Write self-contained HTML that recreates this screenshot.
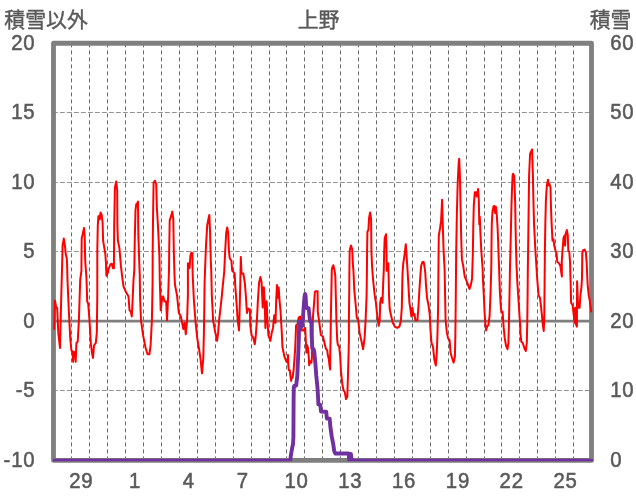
<!DOCTYPE html>
<html lang="ja"><head><meta charset="utf-8"><title>上野</title>
<style>html,body{margin:0;padding:0;background:#fff}svg{display:block}text{font-family:"Liberation Sans","Noto Sans CJK JP",sans-serif;font-size:20.9px;fill:#595959;stroke:#595959;stroke-width:0.4px;stroke-linejoin:round}.d{font-size:21.9px;letter-spacing:0.85px;stroke-width:0.55px}</style></head><body>
<svg width="636" height="501" viewBox="0 0 636 501">
<rect width="636" height="501" fill="#fff"/>
<g stroke="#595959" fill="none">
<line x1="71.5" y1="43.4" x2="71.5" y2="460.2" stroke-width="0.9" stroke-dasharray="4 3"/>
<line x1="89.5" y1="43.4" x2="89.5" y2="460.2" stroke-width="0.9" stroke-dasharray="4 3"/>
<line x1="107.5" y1="43.4" x2="107.5" y2="460.2" stroke-width="0.9" stroke-dasharray="4 3"/>
<line x1="125.5" y1="43.4" x2="125.5" y2="460.2" stroke-width="0.9" stroke-dasharray="4 3"/>
<line x1="143.5" y1="43.4" x2="143.5" y2="460.2" stroke-width="0.9" stroke-dasharray="4 3"/>
<line x1="161.5" y1="43.4" x2="161.5" y2="460.2" stroke-width="0.9" stroke-dasharray="4 3"/>
<line x1="179.5" y1="43.4" x2="179.5" y2="460.2" stroke-width="0.9" stroke-dasharray="4 3"/>
<line x1="197.5" y1="43.4" x2="197.5" y2="460.2" stroke-width="0.9" stroke-dasharray="4 3"/>
<line x1="215.5" y1="43.4" x2="215.5" y2="460.2" stroke-width="0.9" stroke-dasharray="4 3"/>
<line x1="233.5" y1="43.4" x2="233.5" y2="460.2" stroke-width="0.9" stroke-dasharray="4 3"/>
<line x1="251.5" y1="43.4" x2="251.5" y2="460.2" stroke-width="0.9" stroke-dasharray="4 3"/>
<line x1="269.5" y1="43.4" x2="269.5" y2="460.2" stroke-width="0.9" stroke-dasharray="4 3"/>
<line x1="286.5" y1="43.4" x2="286.5" y2="460.2" stroke-width="0.9" stroke-dasharray="4 3"/>
<line x1="304.5" y1="43.4" x2="304.5" y2="460.2" stroke-width="0.9" stroke-dasharray="4 3"/>
<line x1="322.5" y1="43.4" x2="322.5" y2="460.2" stroke-width="0.9" stroke-dasharray="4 3"/>
<line x1="340.5" y1="43.4" x2="340.5" y2="460.2" stroke-width="0.9" stroke-dasharray="4 3"/>
<line x1="358.5" y1="43.4" x2="358.5" y2="460.2" stroke-width="0.9" stroke-dasharray="4 3"/>
<line x1="376.5" y1="43.4" x2="376.5" y2="460.2" stroke-width="0.9" stroke-dasharray="4 3"/>
<line x1="394.5" y1="43.4" x2="394.5" y2="460.2" stroke-width="0.9" stroke-dasharray="4 3"/>
<line x1="412.5" y1="43.4" x2="412.5" y2="460.2" stroke-width="0.9" stroke-dasharray="4 3"/>
<line x1="430.5" y1="43.4" x2="430.5" y2="460.2" stroke-width="0.9" stroke-dasharray="4 3"/>
<line x1="448.5" y1="43.4" x2="448.5" y2="460.2" stroke-width="0.9" stroke-dasharray="4 3"/>
<line x1="466.5" y1="43.4" x2="466.5" y2="460.2" stroke-width="0.9" stroke-dasharray="4 3"/>
<line x1="484.5" y1="43.4" x2="484.5" y2="460.2" stroke-width="0.9" stroke-dasharray="4 3"/>
<line x1="501.5" y1="43.4" x2="501.5" y2="460.2" stroke-width="0.9" stroke-dasharray="4 3"/>
<line x1="519.5" y1="43.4" x2="519.5" y2="460.2" stroke-width="0.9" stroke-dasharray="4 3"/>
<line x1="537.5" y1="43.4" x2="537.5" y2="460.2" stroke-width="0.9" stroke-dasharray="4 3"/>
<line x1="555.5" y1="43.4" x2="555.5" y2="460.2" stroke-width="0.9" stroke-dasharray="4 3"/>
<line x1="573.5" y1="43.4" x2="573.5" y2="460.2" stroke-width="0.9" stroke-dasharray="4 3"/>
<line x1="52.9" y1="112.5" x2="591.5" y2="112.5" stroke-width="0.65" stroke-dasharray="4.9 2.1"/>
<line x1="52.9" y1="182.5" x2="591.5" y2="182.5" stroke-width="0.65" stroke-dasharray="4.9 2.1"/>
<line x1="52.9" y1="251.5" x2="591.5" y2="251.5" stroke-width="0.65" stroke-dasharray="4.9 2.1"/>
<line x1="52.9" y1="390.5" x2="591.5" y2="390.5" stroke-width="0.65" stroke-dasharray="4.9 2.1"/>
</g>
<line x1="53.5" y1="321.2" x2="591.5" y2="321.2" stroke="#7f7f7f" stroke-width="2.7"/>
<rect x="53.5" y="43.25" width="538.0" height="417.15" fill="none" stroke="#7f7f7f" stroke-width="4.8" stroke-linejoin="round"/>
<polyline points="54.3,329.1 54.9,300.5 56.3,307.7 57.2,308.0 58.3,332.9 60.0,348.0 61.3,295.0 62.0,270.0 62.6,245.6 63.8,238.6 65.1,247.0 65.7,254.1 66.8,258.5 67.1,265.0 67.5,281.0 68.9,312.0 69.7,328.0 70.4,340.0 71.4,350.5 72.6,351.8 73.1,361.8 73.9,351.8 75.2,353.0 75.7,361.8 76.4,343.0 77.7,341.7 78.9,320.3 80.2,280.0 81.4,271.0 81.7,238.0 82.7,234.3 84.0,228.0 84.7,236.8 85.2,260.7 86.5,279.0 87.2,301.4 88.2,304.0 89.5,320.3 90.8,343.0 92.0,353.0 93.0,358.0 94.0,345.5 95.8,343.0 96.8,332.9 97.3,295.2 97.3,250.3 97.8,225.2 98.4,216.4 99.3,215.7 99.8,219.5 100.6,212.6 101.6,214.5 102.6,222.6 103.1,240.3 104.3,247.8 105.3,253.5 106.0,263.5 106.4,275.8 107.9,272.5 108.4,269.5 110.4,264.5 111.9,263.7 112.9,268.2 113.9,268.2 114.2,225.5 114.9,187.7 116.2,181.4 117.2,190.3 117.4,225.5 117.9,240.6 119.4,248.1 120.9,265.7 122.0,275.3 123.5,286.4 126.2,292.6 128.5,296.4 129.5,310.3 130.8,311.5 131.8,316.5 132.5,302.7 133.5,280.0 134.3,270.0 134.8,238.0 135.5,210.4 136.3,204.0 137.0,204.0 138.0,201.6 138.3,233.0 139.3,263.2 139.8,275.8 140.0,295.2 141.0,320.3 143.1,335.4 145.6,348.0 147.6,354.3 149.4,354.3 150.6,345.5 151.9,320.3 152.6,282.6 152.7,250.6 153.1,212.9 153.6,182.7 154.9,180.7 156.2,184.0 156.9,207.9 158.2,230.5 159.4,255.7 159.8,280.0 160.7,310.3 161.9,300.2 163.2,296.4 164.5,301.4 166.2,301.4 167.0,320.3 168.2,295.2 169.0,270.0 169.2,250.6 169.7,220.4 171.3,215.4 172.3,211.6 173.3,219.2 173.8,250.6 174.5,275.8 175.0,285.0 177.0,295.2 178.8,312.8 180.8,316.5 182.1,322.8 183.3,329.1 184.6,322.8 185.8,334.2 187.1,320.3 187.9,295.2 187.9,270.0 187.9,263.2 188.9,264.5 189.6,268.2 190.4,255.7 191.4,252.6 192.4,253.1 192.6,270.8 192.8,277.5 193.9,300.2 195.4,320.3 197.2,337.9 198.9,348.0 200.4,358.0 202.0,373.3 203.3,358.0 203.9,332.9 204.3,307.7 204.6,282.6 205.3,263.2 206.0,245.6 207.2,225.5 208.6,217.9 209.3,214.9 210.1,233.0 210.8,260.7 211.3,272.0 211.8,295.2 213.1,320.3 215.1,331.6 217.1,340.9 218.1,332.9 219.1,320.3 221.4,300.2 223.1,282.6 224.2,272.0 225.2,250.6 226.2,233.0 227.2,227.5 228.2,233.0 228.9,250.6 229.7,258.2 231.4,260.7 232.2,270.8 233.5,272.0 234.7,273.8 235.2,285.0 236.5,302.7 237.7,320.3 239.0,330.4 239.7,307.7 240.3,282.6 240.8,256.9 241.5,273.3 243.3,273.5 244.8,282.6 245.8,295.0 246.6,308.0 247.0,313.0 248.3,308.6 249.9,309.3 250.3,325.3 251.6,335.4 253.3,337.9 254.8,344.2 255.8,335.4 256.9,320.3 257.9,300.2 259.1,282.6 260.4,277.0 261.6,282.6 262.7,307.5 262.9,287.6 263.9,287.6 264.7,302.7 265.4,327.9 265.9,302.7 266.7,301.4 267.4,320.3 268.4,335.4 270.4,340.9 271.7,332.9 273.0,327.9 274.2,315.3 275.5,322.8 276.2,300.2 277.0,285.0 278.0,297.7 278.7,287.6 279.5,300.2 280.5,310.3 281.8,332.9 282.5,347.5 284.4,356.4 286.3,361.4 287.8,362.6 288.0,355.1 288.3,365.2 288.8,370.2 289.8,370.2 290.7,377.7 291.1,380.9 291.6,377.7 292.6,377.7 293.6,370.2 294.5,358.9 295.3,346.3 296.1,325.3 297.6,324.1 298.6,317.8 300.1,316.5 301.9,330.4 303.6,330.4 305.2,327.9 305.8,340.0 306.4,352.6 307.0,345.0 307.9,347.5 308.7,356.4 309.2,365.2 310.2,361.4 311.4,362.6 311.9,358.0 312.2,345.5 312.7,322.0 313.1,315.0 314.3,300.6 314.9,292.0 315.7,291.2 317.6,291.2 317.7,301.0 317.8,312.0 319.1,321.0 320.9,335.0 323.0,336.7 324.5,343.0 325.9,348.8 327.2,350.1 327.8,355.1 328.8,358.9 329.3,363.9 330.1,369.6 330.3,352.6 330.6,340.0 330.8,320.3 331.3,295.2 331.8,270.0 332.1,268.2 333.3,265.2 334.6,270.8 335.3,275.8 335.8,295.2 336.4,320.3 337.2,340.0 337.9,345.0 339.1,346.3 340.1,355.1 341.0,371.4 342.3,384.0 343.5,390.3 344.8,392.2 346.0,399.1 347.3,396.6 347.9,377.7 348.6,352.6 348.9,340.0 348.9,320.3 349.2,295.2 349.4,270.0 349.7,250.6 350.9,245.4 352.2,249.4 353.0,265.7 353.5,272.0 354.3,290.1 355.5,302.7 356.8,317.8 358.3,320.3 359.6,332.9 361.3,340.4 363.1,349.2 364.6,337.9 365.6,320.3 366.6,295.2 366.9,272.0 367.1,250.6 367.4,231.8 368.4,230.0 369.1,217.9 370.1,212.4 371.1,219.2 371.4,250.6 372.1,267.0 373.1,280.0 374.7,295.2 375.9,302.7 377.2,315.3 378.7,325.8 379.7,320.3 380.2,302.7 381.2,297.7 382.5,302.7 383.2,282.6 383.8,270.0 384.2,250.6 384.7,238.0 386.0,234.3 386.5,250.6 386.7,270.8 387.2,263.2 388.2,263.2 388.6,275.0 389.0,295.2 389.7,309.0 391.0,315.3 392.8,322.8 394.8,326.6 397.3,327.9 399.3,326.6 400.8,321.6 401.8,307.7 402.3,282.6 402.6,272.0 403.3,263.2 404.8,253.1 405.8,244.3 406.6,255.7 407.4,268.2 408.4,285.1 409.4,302.7 410.4,309.0 411.4,316.5 412.4,307.7 413.4,315.3 414.4,314.0 415.4,320.3 417.4,320.3 418.4,307.7 419.4,290.1 420.4,275.4 421.2,265.7 422.5,261.9 423.7,261.9 424.7,268.2 425.3,273.0 426.0,285.1 427.0,297.7 428.5,305.2 429.7,314.0 430.5,330.4 431.5,343.0 433.0,346.7 434.3,359.3 435.8,365.6 436.8,353.0 437.5,332.9 438.1,307.7 438.4,272.0 438.6,250.6 438.8,235.5 440.1,228.0 441.1,220.4 442.1,199.8 442.8,225.5 443.6,250.6 444.6,269.0 445.1,295.2 445.6,320.3 446.9,332.9 448.1,338.4 449.6,340.4 450.6,353.0 452.1,358.0 453.6,362.6 454.9,356.8 455.4,332.9 455.8,295.2 456.0,272.0 456.2,250.6 456.9,212.9 457.7,182.7 458.7,162.6 459.2,158.8 459.9,175.2 460.7,212.9 461.2,238.0 461.9,259.4 463.2,265.7 464.0,271.5 464.7,276.3 466.2,280.1 467.7,283.8 469.5,288.9 470.8,285.1 472.0,279.0 472.8,255.7 473.3,225.5 473.8,205.3 474.8,192.3 476.0,192.3 476.8,196.5 478.1,189.0 478.8,200.3 479.3,224.2 479.8,216.7 480.3,230.5 481.3,250.6 482.6,268.2 483.0,280.0 483.8,295.2 484.6,312.8 485.3,322.8 486.1,330.4 487.1,326.6 488.4,324.8 489.6,316.0 490.6,292.0 491.3,267.0 491.5,245.0 491.8,223.0 492.5,211.5 493.6,206.2 494.4,206.0 495.1,213.0 496.0,207.1 496.9,216.6 497.6,228.0 498.2,243.0 498.7,258.0 499.2,272.0 499.8,290.0 500.6,304.0 501.4,312.3 502.6,311.7 503.2,321.1 503.7,327.9 504.7,337.9 506.0,345.5 507.5,349.2 508.4,343.0 508.9,325.0 509.5,295.0 510.0,267.0 510.8,235.0 511.4,208.0 512.0,189.0 512.6,175.2 513.1,173.7 514.2,176.2 514.7,189.0 515.2,204.0 515.6,229.0 516.0,248.0 516.6,267.0 517.5,285.0 518.5,300.0 519.6,317.3 520.3,326.0 520.3,331.6 521.3,341.7 522.8,343.0 524.3,348.0 525.8,351.0 526.8,343.0 527.3,320.3 527.6,295.2 527.8,272.0 528.1,250.6 528.6,212.9 529.1,175.2 530.1,153.8 531.3,151.3 532.1,149.5 532.9,175.2 533.4,200.3 534.1,225.5 535.4,250.6 536.4,265.7 537.0,276.0 537.7,285.0 538.6,295.2 539.9,297.7 540.9,305.2 541.9,315.3 542.9,325.3 543.7,330.9 544.2,320.3 544.5,295.2 544.7,272.0 544.9,250.6 545.3,225.5 545.9,200.3 546.9,185.2 548.0,179.7 548.5,185.2 549.5,184.0 550.5,187.7 551.0,207.9 551.7,225.5 552.5,240.6 553.5,239.3 554.2,245.6 555.5,250.6 556.5,253.1 557.3,261.9 559.0,263.2 560.3,265.7 561.9,276.5 561.8,260.7 562.5,250.6 563.5,238.0 564.6,235.5 565.1,245.6 565.6,234.3 566.8,230.0 567.8,235.5 568.3,250.6 569.3,251.9 570.1,263.2 570.4,275.8 570.7,285.1 571.1,302.7 572.6,305.2 573.6,314.0 574.6,322.8 575.1,307.7 575.9,324.1 576.9,326.6 577.1,281.3 578.1,307.7 579.6,307.7 580.4,295.2 581.4,287.6 582.0,278.0 582.3,253.1 583.2,250.1 584.7,249.6 585.9,252.6 586.7,263.2 587.2,275.8 587.7,285.1 588.7,295.2 589.7,300.2 591.2,311.5" fill="none" stroke="#ff0000" stroke-width="2" stroke-linejoin="round" stroke-linecap="round"/>
<clipPath id="cp"><rect x="40" y="30" width="570" height="431.2"/></clipPath>
<polyline clip-path="url(#cp)" points="54.6,460.6 290.2,460.6 291.2,453.3 292.3,447.0 293.0,444.5 293.4,437.0 293.6,400.0 293.8,388.0 294.2,386.0 296.2,385.5 297.3,376.0 298.0,360.0 298.8,340.0 299.2,322.0 300.2,321.5 301.3,326.5 302.2,326.0 302.9,319.0 303.6,308.0 304.5,297.0 305.1,294.0 305.6,296.0 306.1,305.0 306.6,308.0 308.6,308.3 309.5,316.0 310.1,321.0 311.4,322.5 311.6,335.0 311.9,340.0 312.2,348.0 313.7,349.5 314.3,352.0 315.4,363.9 316.3,375.9 317.5,387.8 318.2,399.8 318.4,404.4 320.3,404.8 321.0,411.6 326.2,411.8 326.9,418.5 329.7,418.8 330.4,427.1 331.8,436.9 333.2,443.9 334.2,450.9 335.3,453.5 347.5,453.5 348.6,453.5 349.3,460.6 350.2,454.0 350.9,454.0 351.7,460.6 591.3,460.6" fill="none" stroke="#7030a0" stroke-width="3.9" stroke-linejoin="round" stroke-linecap="round"/>
<text x="4.3" y="26.5">積雪以外</text>
<text x="318.6" y="26.5" text-anchor="middle">上野</text>
<text x="631.5" y="26.5" text-anchor="end">積雪</text>
<text class="d" transform="translate(35.4,49.8) scale(0.93,1)" text-anchor="end">20</text>
<text class="d" transform="translate(35.4,119.3) scale(0.93,1)" text-anchor="end">15</text>
<text class="d" transform="translate(35.4,188.8) scale(0.93,1)" text-anchor="end">10</text>
<text class="d" transform="translate(35.4,258.2) scale(0.93,1)" text-anchor="end">5</text>
<text class="d" transform="translate(35.4,327.7) scale(0.93,1)" text-anchor="end">0</text>
<text class="d" transform="translate(35.4,397.2) scale(0.93,1)" text-anchor="end">-5</text>
<text class="d" transform="translate(35.4,466.7) scale(0.93,1)" text-anchor="end">-10</text>
<text class="d" transform="translate(610.2,49.8) scale(0.93,1)">60</text>
<text class="d" transform="translate(610.2,119.3) scale(0.93,1)">50</text>
<text class="d" transform="translate(610.2,188.8) scale(0.93,1)">40</text>
<text class="d" transform="translate(610.2,258.2) scale(0.93,1)">30</text>
<text class="d" transform="translate(610.2,327.7) scale(0.93,1)">20</text>
<text class="d" transform="translate(610.2,397.2) scale(0.93,1)">10</text>
<text class="d" transform="translate(610.2,466.7) scale(0.93,1)">0</text>
<text transform="translate(81.3,488.2) scale(0.93,1)" text-anchor="middle" class="d">29</text>
<text transform="translate(135.1,488.2) scale(0.93,1)" text-anchor="middle" class="d">1</text>
<text transform="translate(188.9,488.2) scale(0.93,1)" text-anchor="middle" class="d">4</text>
<text transform="translate(242.7,488.2) scale(0.93,1)" text-anchor="middle" class="d">7</text>
<text transform="translate(296.5,488.2) scale(0.93,1)" text-anchor="middle" class="d">10</text>
<text transform="translate(350.3,488.2) scale(0.93,1)" text-anchor="middle" class="d">13</text>
<text transform="translate(404.1,488.2) scale(0.93,1)" text-anchor="middle" class="d">16</text>
<text transform="translate(457.9,488.2) scale(0.93,1)" text-anchor="middle" class="d">19</text>
<text transform="translate(511.7,488.2) scale(0.93,1)" text-anchor="middle" class="d">22</text>
<text transform="translate(565.5,488.2) scale(0.93,1)" text-anchor="middle" class="d">25</text>
</svg></body></html>
